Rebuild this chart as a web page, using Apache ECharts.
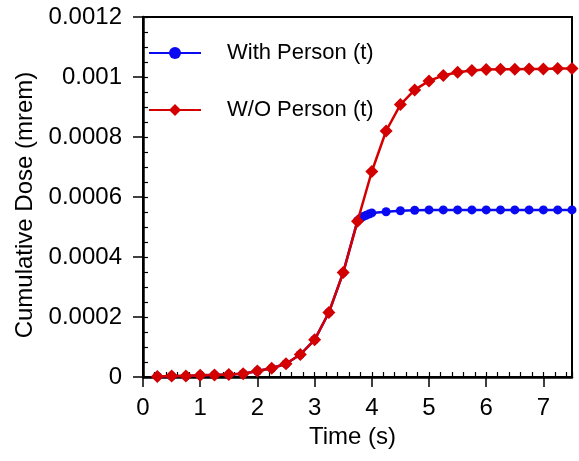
<!DOCTYPE html>
<html>
<head>
<meta charset="utf-8">
<script src="https://cdn.jsdelivr.net/npm/echarts@6/dist/echarts.min.js"></script>
<style>
  html, body { margin: 0; padding: 0; background: #fff; }
  #chart { width: 579px; height: 461px; }
</style>
</head>
<body>
<div id="chart"></div>
<script>
// time steps (s)
const timeRed = [0.25, 0.5, 0.75, 1, 1.25, 1.5, 1.75, 2, 2.25, 2.5, 2.75, 3, 3.25, 3.5, 3.75,
  4, 4.25, 4.5, 4.75, 5, 5.25, 5.5, 5.75, 6, 6.25, 6.5, 6.75, 7, 7.25, 7.5];
const doseRed = [0.000002, 0.000003, 0.000003, 0.000006, 0.000007, 0.000008, 0.000011, 0.00002,
  0.000029, 0.000044, 0.000075, 0.000124, 0.000215, 0.000348, 0.000519,
  0.000685, 0.00082, 0.000908, 0.000957, 0.000987, 0.001005, 0.001016, 0.001022, 0.001025,
  0.001026, 0.001026, 0.001027, 0.001027, 0.001028, 0.001028];

const timeBlue = [0.25, 0.5, 0.75, 1, 1.25, 1.5, 1.75, 2, 2.25, 2.5, 2.75, 3, 3.25, 3.5, 3.75,
  3.8, 3.85, 3.9, 3.95, 4, 4.25, 4.5, 4.75, 5, 5.25, 5.5, 5.75, 6, 6.25, 6.5, 6.75, 7, 7.25, 7.5];
const doseBlue = [0.000002, 0.000003, 0.000003, 0.000006, 0.000007, 0.000008, 0.000011, 0.00002,
  0.000029, 0.000044, 0.000075, 0.000124, 0.000215, 0.000348, 0.000521,
  0.000529, 0.000535, 0.000539, 0.000543, 0.000547, 0.000551, 0.000554, 0.000556, 0.000557,
  0.000557, 0.000557, 0.000557, 0.000557, 0.000557, 0.000557, 0.000557, 0.000557, 0.000557, 0.000557];

const xTicks = [0, 1, 2, 3, 4, 5, 6, 7];
const yTicks = [0, 0.0002, 0.0004, 0.0006, 0.0008, 0.001, 0.0012];

const seriesNames = ['With Person (t)', 'W/O Person (t)'];

const FONT = 'Liberation Sans, Arial, sans-serif';
const BLUE = '#0a0af2';
const RED = '#d40000';

const chart = echarts.init(document.getElementById('chart'), null, { renderer: 'canvas' });

const pairs = (xs, ys) => xs.map((x, i) => [x, ys[i]]);

const fmtY = (v) => (v === 0 ? '0' : v.toFixed(4).replace(/0+$/, ''));

const option = {
  backgroundColor: '#fff',
  animation: false,
  grid: {
    left: 143, right: 7, top: 17, bottom: 84,
    show: true, borderColor: '#000', borderWidth: 2, backgroundColor: 'transparent'
  },
  legend: {
    orient: 'vertical',
    left: 148,
    top: 42,
    padding: 0,
    itemWidth: 52,
    itemHeight: 15,
    itemGap: 35,
    data: seriesNames,
    textStyle: { fontFamily: FONT, fontSize: 22, color: '#000', padding: [0, 0, 0, 21] }
  },
  xAxis: [
    {
      type: 'value', min: 0, max: 7.5,
      name: 'Time (s)', nameLocation: 'middle', nameGap: 48,
      nameTextStyle: { fontFamily: FONT, fontSize: 24, color: '#000', padding: [0, 10, 0, 0] },
      axisLine: { show: true, onZero: false, lineStyle: { color: '#000', width: 2.5 } },
      axisTick: { show: true, inside: false, length: 10, customValues: xTicks, lineStyle: { color: '#000', width: 1.5 } },
      axisLabel: { customValues: xTicks, margin: 19, fontFamily: FONT, fontSize: 24, color: '#000' },
      splitLine: { show: false }
    },
    {
      type: 'value', min: 0, max: 7.5, interval: 0.2, position: 'bottom',
      axisLine: { show: false },
      axisTick: { show: true, inside: true, length: 5, lineStyle: { color: '#000', width: 1.2 } },
      axisLabel: { show: false },
      splitLine: { show: false }
    }
  ],
  yAxis: [
    {
      type: 'value', min: 0, max: 0.0012,
      name: 'Cumulative Dose (mrem)', nameLocation: 'middle', nameGap: 102,
      nameTextStyle: { fontFamily: FONT, fontSize: 24, color: '#000', padding: [0, 16, 0, 0] },
      axisLine: { show: true, onZero: false, lineStyle: { color: '#000', width: 2.5 } },
      axisTick: { show: true, inside: false, length: 10, customValues: yTicks, lineStyle: { color: '#000', width: 1.5 } },
      axisLabel: { customValues: yTicks, margin: 21, fontFamily: FONT, fontSize: 24, color: '#000', formatter: fmtY },
      splitLine: { show: false }
    },
    {
      type: 'value', min: 0, max: 0.0012, interval: 0.00005, position: 'left',
      axisLine: { show: false },
      axisTick: { show: true, inside: true, length: 5, lineStyle: { color: '#000', width: 1.2 } },
      axisLabel: { show: false },
      splitLine: { show: false }
    }
  ],
  series: [
    {
      name: seriesNames[0],
      type: 'line',
      data: pairs(timeBlue, doseBlue),
      symbol: 'circle',
      symbolSize: 9,
      lineStyle: { color: BLUE, width: 2.5 },
      itemStyle: { color: BLUE },
      z: 2
    },
    {
      name: seriesNames[1],
      type: 'line',
      data: pairs(timeRed, doseRed),
      symbol: 'diamond',
      symbolSize: 13,
      lineStyle: { color: RED, width: 2.5 },
      itemStyle: { color: RED },
      z: 3
    }
  ]
};

chart.setOption(option);
</script>
</body>
</html>
